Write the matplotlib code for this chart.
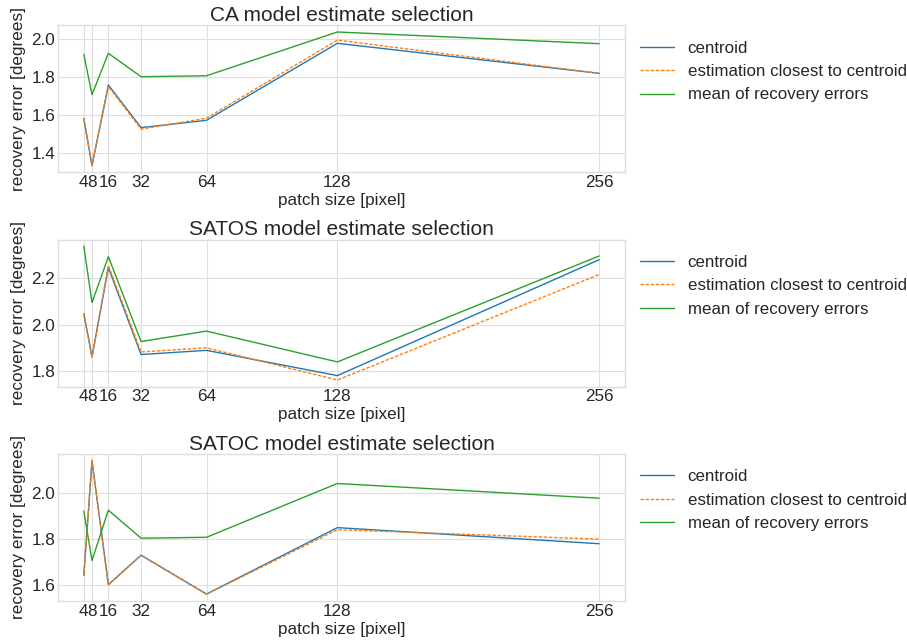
import matplotlib
matplotlib.use("Agg")
import matplotlib.pyplot as plt

plt.style.use("seaborn-v0_8-whitegrid")
plt.rcParams["font.family"] = ["Liberation Sans", "DejaVu Sans"]
plt.rcParams["text.color"] = "#262626"
plt.rcParams["axes.labelcolor"] = "#262626"
plt.rcParams["xtick.color"] = "#262626"
plt.rcParams["ytick.color"] = "#262626"
plt.rcParams["grid.color"] = "#dedede"
plt.rcParams["axes.edgecolor"] = "#dedede"

patch_sizes = [4, 8, 16, 32, 64, 128, 256]

# CA model
ca_centroid = [1.58, 1.33, 1.758, 1.532, 1.571, 1.979, 1.82]
ca_closest = [1.58, 1.335, 1.75, 1.524, 1.582, 1.996, 1.82]
ca_mean = [1.92, 1.707, 1.926, 1.802, 1.807, 2.039, 1.977]

# SATOS model
satos_centroid = [2.047, 1.86, 2.246, 1.871, 1.889, 1.78, 2.28]
satos_closest = [2.05, 1.86, 2.256, 1.882, 1.90, 1.761, 2.216]
satos_mean = [2.338, 2.095, 2.293, 1.927, 1.972, 1.839, 2.296]

# SATOC model
satoc_centroid = [1.642, 2.14, 1.602, 1.73, 1.561, 1.85, 1.78]
satoc_closest = [1.64, 2.142, 1.60, 1.73, 1.56, 1.841, 1.80]
satoc_mean = [1.922, 1.707, 1.926, 1.804, 1.808, 2.042, 1.978]

models = ["CA", "SATOS", "SATOC"]
centroids = [ca_centroid, satos_centroid, satoc_centroid]
closests = [ca_closest, satos_closest, satoc_closest]
means = [ca_mean, satos_mean, satoc_mean]

fig, axes = plt.subplots(3, 1, figsize=(9.07, 6.42), dpi=100)
fig.subplots_adjust(left=0.064, right=0.689, top=0.9606, bottom=0.0639, hspace=0.456)

for ax, name, cen, clo, mn in zip(axes, models, centroids, closests, means):
    ax.plot(patch_sizes, cen, color="tab:blue", lw=1, label="centroid")
    ax.plot(patch_sizes, clo, color="tab:orange", lw=1, ls=(0, (2.5, 1.2)),
            label="estimation closest to centroid")
    ax.plot(patch_sizes, mn, color="tab:green", lw=1, label="mean of recovery errors")
    ax.set_xticks(patch_sizes)
    ax.set_xticklabels([str(p) for p in patch_sizes])
    ax.tick_params(labelsize=12.3, pad=2)
    ax.set_xlabel("patch size [pixel]", fontsize=12.3, labelpad=2)
    ax.set_ylabel("recovery error [degrees]", fontsize=12.3)
    ax.set_title(f"{name} model estimate selection", fontsize=15, pad=3)
    ax.legend(loc="upper left", bbox_to_anchor=(1.0, 1.0), fontsize=12.2, frameon=False)

fig.savefig("out.png", dpi=100)
